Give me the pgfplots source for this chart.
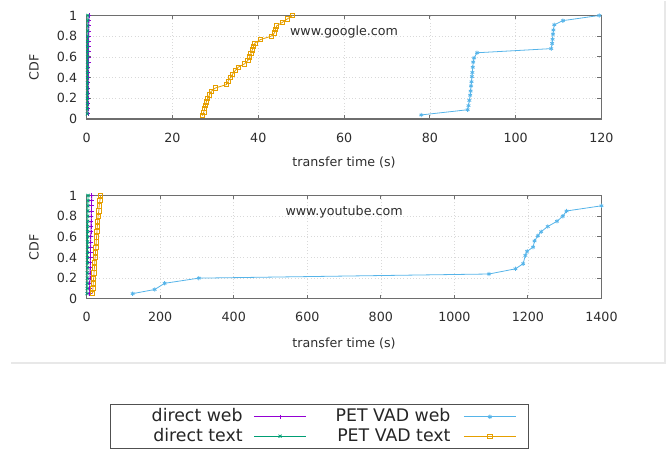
\documentclass[border=0pt]{standalone}
\usepackage{pgfplots}
\pgfplotsset{compat=1.18}
\usepackage{fontspec}
\setmainfont{DejaVu Sans}
\definecolor{cweb}{RGB}{148,0,211}
\definecolor{ctext}{RGB}{0,158,115}
\definecolor{pweb}{RGB}{86,180,233}
\definecolor{ptext}{RGB}{230,159,0}
\definecolor{axgray}{RGB}{110,110,110}
\definecolor{txt}{RGB}{45,45,45}
\definecolor{legline}{RGB}{80,80,80}

\pgfplotsset{
  cdfaxis/.style={
    scale only axis, width=386.1pt,
    ymin=0, ymax=1, ytick={0,0.2,0.4,0.6,0.8,1},
    axis line style={axgray, line width=1pt},
    tick style={axgray, line width=0.8pt},
    major tick length=3pt,
    tick align=inside,
    xtick pos=both, ytick pos=both,
    grid=major, major grid style={gray!30, dotted, line width=0.5pt},
    font=\fontsize{9.5}{11}\selectfont,
    tick label style={txt, font=\fontsize{9.5}{11}\selectfont},
    /pgf/number format/assume math mode=true,
    /pgf/number format/set thousands separator={},
    scaled ticks=false,
    xticklabel pos=lower, yticklabel pos=left,
    xticklabel style={inner sep=0pt, yshift=-10pt},
    yticklabel style={inner sep=0pt, xshift=-7pt},
    xlabel={transfer time (s)}, ylabel={CDF},
    xlabel style={at={(axis description cs:0.5,-0.42)}, anchor=center, txt},
    ylabel style={at={(axis description cs:-0.1024,0.5)}, anchor=center, txt},
    every axis plot/.append style={line width=0.6pt, mark size=1.6pt},
    legend image code/.code={
      \draw[mark repeat=2, mark phase=2, #1] plot coordinates {(0pt,0pt) (19.5pt,0pt) (39pt,0pt)};
    },
  },
  dweb/.style={cweb, mark=+},
  dtext/.style={ctext, mark=x},
  pwebs/.style={pweb, mark=asterisk},
  ptexts/.style={ptext, mark=square},
}

\begin{document}
\begin{tikzpicture}
\path (0pt,0pt) rectangle (501pt,-342pt);
\draw[gray!18, line width=1.2pt] (8.25pt,-271.5pt) -- (498.75pt,-271.5pt) -- (498.75pt,0pt);

% ---------------- top: google
\begin{axis}[cdfaxis, at={(65pt,-88.7pt)}, anchor=south west, height=77.7pt,
  xmin=0, xmax=120, xtick={0,20,40,60,80,100,120}]
\addplot[dweb] coordinates {
(0.30,0.05) (0.31,0.10) (0.32,0.15) (0.33,0.20) (0.34,0.25) (0.35,0.30) (0.36,0.35)
(0.37,0.40) (0.38,0.45) (0.39,0.50) (0.40,0.55) (0.41,0.60) (0.42,0.65) (0.43,0.70)
(0.44,0.75) (0.45,0.80) (0.47,0.85) (0.49,0.90) (0.52,0.95) (0.60,1.00)};
\addplot[dtext] coordinates {
(0.15,0.05) (0.16,0.10) (0.16,0.15) (0.17,0.20) (0.17,0.25) (0.18,0.30) (0.18,0.35)
(0.19,0.40) (0.19,0.45) (0.20,0.50) (0.20,0.55) (0.21,0.60) (0.21,0.65) (0.22,0.70)
(0.22,0.75) (0.23,0.80) (0.24,0.85) (0.25,0.90) (0.27,0.95) (0.30,1.00)};
\addplot[pwebs] coordinates {
(78.0,0.04) (88.8,0.09) (89.0,0.13) (89.2,0.18) (89.4,0.23) (89.5,0.27) (89.6,0.32)
(89.7,0.36) (89.8,0.41) (89.9,0.45) (90.0,0.50) (90.1,0.55) (90.3,0.59) (91.0,0.64)
(108.3,0.68) (108.5,0.73) (108.6,0.77) (108.7,0.82) (108.8,0.86) (109.0,0.91)
(111.0,0.95) (119.5,1.00)};
\addplot[ptexts] coordinates {
(27.0,0.033) (27.3,0.067) (27.5,0.100) (27.7,0.133) (27.9,0.167) (28.2,0.200)
(28.6,0.233) (29.0,0.267) (30.0,0.300) (32.6,0.333) (33.0,0.367) (33.5,0.400)
(34.0,0.433) (34.6,0.467) (35.3,0.500) (36.8,0.533) (37.6,0.567) (38.0,0.600)
(38.3,0.633) (38.6,0.667) (38.9,0.700) (39.2,0.733) (40.5,0.767) (43.0,0.800)
(43.8,0.833) (44.0,0.867) (44.3,0.900) (45.6,0.933) (46.8,0.967) (48.0,1.000)};
\node[txt, font=\fontsize{9.5}{11}\selectfont] at (axis cs:60,0.84) {www.google.com};
\end{axis}

% ---------------- bottom: youtube
\begin{axis}[cdfaxis, at={(65pt,-223.5pt)}, anchor=south west, height=77.5pt,
  xmin=0, xmax=1400, xtick={0,200,400,600,800,1000,1200,1400},
  xlabel style={at={(axis description cs:0.5,-0.436)}},
  legend columns=2, transpose legend, legend plot pos=right,
  legend style={at={(axis description cs:0.0453,-1.0165)}, anchor=north west,
    draw=legline, line width=1pt, inner xsep=9pt, inner ysep=2pt,
    font=\fontsize{13}{15}\selectfont, text=black!85,
    column sep=0pt, row sep=0pt,
    nodes={inner sep=0pt, text height=11pt, text depth=3.5pt}},
  ]
\addplot[dweb] coordinates {
(8.0,0.05) (8.3,0.10) (8.6,0.15) (8.9,0.20) (9.2,0.25) (9.5,0.30) (9.8,0.35)
(10.1,0.40) (10.4,0.45) (10.7,0.50) (11.0,0.55) (11.3,0.60) (11.6,0.65) (11.9,0.70)
(12.2,0.75) (12.5,0.80) (12.8,0.85) (13.1,0.90) (13.5,0.95) (14.0,1.00)};
\addlegendentry{\makebox[98.25pt][r]{direct web\hspace{8.25pt}}}
\addplot[dtext] coordinates {
(1.0,0.05) (1.2,0.10) (1.3,0.15) (1.5,0.20) (1.6,0.25) (1.8,0.30) (1.9,0.35)
(2.0,0.40) (2.1,0.45) (2.2,0.50) (2.3,0.55) (2.4,0.60) (2.5,0.65) (2.6,0.70)
(2.7,0.75) (2.8,0.80) (3.0,0.85) (3.2,0.90) (3.4,0.95) (3.7,1.00)};
\addlegendentry{\makebox[98.25pt][r]{direct text\hspace{8.25pt}}}
\addplot[pwebs] coordinates {
(125,0.05) (185,0.09) (212,0.15) (305,0.20) (1094,0.24) (1166,0.29) (1187,0.34)
(1193,0.42) (1198,0.46) (1214,0.50) (1218,0.56) (1227,0.61) (1236,0.65) (1254,0.70)
(1279,0.75) (1295,0.80) (1305,0.85) (1400,0.90)};
\addlegendentry{\makebox[117.75pt][r]{PET VAD web\hspace{9.75pt}}}
\addplot[ptexts] coordinates {
(16,0.05) (17,0.10) (18,0.15) (19,0.20) (20,0.25) (21,0.30) (22,0.35) (23,0.40)
(24,0.45) (25,0.50) (26,0.55) (27,0.60) (28,0.65) (29,0.70) (30,0.75) (31,0.80)
(33,0.85) (34,0.90) (36,0.95) (38,1.00)};
\addlegendentry{\makebox[117.75pt][r]{PET VAD text\hspace{9.75pt}}}
\node[txt, font=\fontsize{9.5}{11}\selectfont] at (axis cs:700,0.84) {www.youtube.com};
\end{axis}
\end{tikzpicture}
\end{document}
